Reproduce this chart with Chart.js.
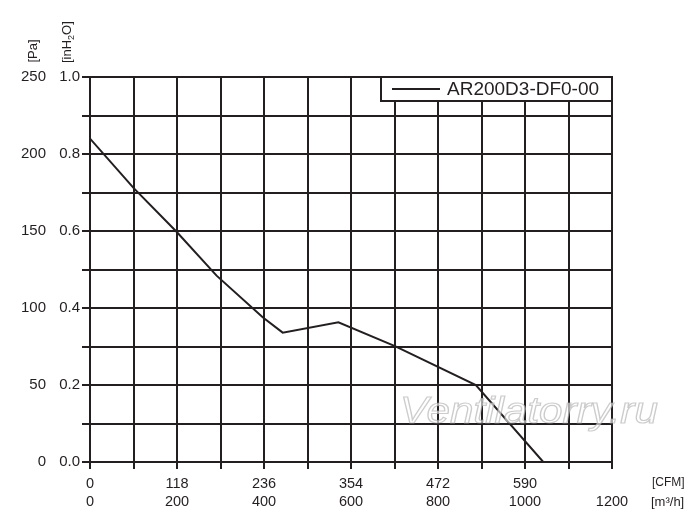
<!DOCTYPE html>
<html>
<head>
<meta charset="utf-8">
<script src="https://cdn.jsdelivr.net/npm/chart.js@4"></script>
<style>
    body { margin: 0; background: #fff; }
    #wrap { width: 700px; height: 530px; }
</style>
</head>
<body>
<div id="wrap"><canvas id="myChart"></canvas></div>
<script>
const modelName = 'AR200D3-DF0-00'

// airflow in m3/h and static pressure in Pa
const flowValues = [0, 100, 199, 291, 397, 443, 571, 701, 887, 1042]
const pressureValues = [210, 178, 149.5, 121, 94, 84, 90.7, 75.3, 50, 0]

// CFM labels sit under the 0, 200 ... 1000 m3/h gridlines
const cfmTickAt = [0, 200, 400, 600, 800, 1000]
const cfmTickLabels = ['0', '118', '236', '354', '472', '590']

const ink = '#231f20'
const fontFamily = '"Liberation Sans", Arial, sans-serif'

Chart.defaults.font.family = fontFamily
Chart.defaults.color = ink

const points = flowValues.map((f, i) => ({ x: f, y: pressureValues[i] }))

const extraText = {
    id: 'extraText',
    afterDatasetsDraw(chart) {
        const ctx = chart.ctx
        const area = chart.chartArea
        ctx.save()

        // legend box in the top right corner of the plot
        const boxW = 231, boxH = 24
        const bx = area.right - boxW, by = area.top
        ctx.fillStyle = '#fff'
        ctx.fillRect(bx, by, boxW, boxH)
        ctx.strokeStyle = ink
        ctx.lineWidth = 2
        ctx.strokeRect(bx, by, boxW, boxH)
        ctx.beginPath()
        ctx.moveTo(bx + 11, by + 12)
        ctx.lineTo(bx + 59, by + 12)
        ctx.stroke()
        ctx.fillStyle = ink
        ctx.font = '19px ' + fontFamily
        ctx.textBaseline = 'middle'
        ctx.textAlign = 'left'
        ctx.fillText(chart.data.datasets[0].label, bx + 66, by + 13)
        ctx.restore()
    },
    afterDraw(chart) {
        const ctx = chart.ctx
        ctx.save()
        ctx.fillStyle = ink
        ctx.textBaseline = 'middle'

        // rotated unit labels above the y axes
        ctx.save()
        ctx.translate(33, 51)
        ctx.rotate(-Math.PI / 2)
        ctx.font = '13px ' + fontFamily
        ctx.textAlign = 'center'
        ctx.fillText('[Pa]', 0, 0)
        ctx.restore()

        ctx.save()
        ctx.translate(67, 63)
        ctx.rotate(-Math.PI / 2)
        ctx.textAlign = 'left'
        ctx.font = '13px ' + fontFamily
        let w = 0
        ctx.fillText('[inH', w, 0)
        w += ctx.measureText('[inH').width
        ctx.font = '9px ' + fontFamily
        ctx.fillText('2', w, 5)
        w += ctx.measureText('2').width
        ctx.font = '13px ' + fontFamily
        ctx.fillText('O]', w, 0)
        ctx.restore()

        // unit labels at the right of the x axes
        ctx.textAlign = 'left'
        ctx.font = '12px ' + fontFamily
        ctx.fillText('[CFM]', 652, 483)
        ctx.font = '13px ' + fontFamily
        ctx.fillText('[m\u00B3/h]', 651, 502)

        // watermark
        ctx.save()
        ctx.translate(400, 423)
        ctx.scale(1.14, 1)
        ctx.font = 'italic 37px ' + fontFamily
        ctx.textBaseline = 'alphabetic'
        ctx.fillStyle = 'rgba(255,255,255,0.6)'
        ctx.strokeStyle = 'rgba(170,170,170,0.6)'
        ctx.lineWidth = 1.2
        ctx.fillText('Ventilatorry.ru', 0, 0)
        ctx.strokeText('Ventilatorry.ru', 0, 0)
        ctx.restore()

        ctx.restore()
    }
}

new Chart(document.getElementById('myChart'), {
    type: 'line',
    data: {
        datasets: [{
            label: modelName,
            data: points,
            xAxisID: 'x',
            yAxisID: 'y',
            borderColor: ink,
            borderWidth: 2,
            pointRadius: 0,
            tension: 0,
            fill: false
        }]
    },
    options: {
        responsive: true,
        maintainAspectRatio: false,
        animation: false,
        layout: {
            padding: { left: 0, top: 77, right: 88, bottom: 8 }
        },
        plugins: {
            legend: { display: false },
            tooltip: { enabled: false }
        },
        scales: {
            xc: {
                type: 'linear',
                position: 'bottom',
                weight: 0,
                min: 0,
                max: 1200,
                afterFit: s => { s.height = 30 },
                grid: { color: ink, lineWidth: 2, tickLength: 7, tickColor: ink },
                border: { display: true, color: ink, width: 2 },
                ticks: {
                    stepSize: 100,
                    autoSkip: false,
                    maxRotation: 0,
                    padding: 6,
                    font: { size: 14.5 },
                    callback: v => {
                        const k = cfmTickAt.indexOf(v)
                        return k >= 0 ? cfmTickLabels[k] : ''
                    }
                }
            },
            x: {
                type: 'linear',
                position: 'bottom',
                weight: 1,
                min: 0,
                max: 1200,
                afterFit: s => { s.height = 30 },
                grid: { display: false, drawTicks: false },
                border: { display: false },
                ticks: {
                    stepSize: 200,
                    autoSkip: false,
                    maxRotation: 0,
                    padding: 1,
                    font: { size: 14.5 },
                    callback: v => String(v)
                }
            },
            yin: {
                type: 'linear',
                position: 'left',
                weight: 0,
                min: 0,
                max: 1.0,
                afterFit: s => { s.width = 40 },
                grid: { color: ink, lineWidth: 2, tickLength: 8, tickColor: ink },
                border: { display: true, color: ink, width: 2 },
                ticks: {
                    stepSize: 0.1,
                    autoSkip: false,
                    padding: 2,
                    font: { size: 15 },
                    callback: v => Math.round(v * 10) % 2 === 0 ? v.toFixed(1) : ''
                }
            },
            y: {
                type: 'linear',
                position: 'left',
                weight: 1,
                min: 0,
                max: 250,
                afterFit: s => { s.width = 50 },
                grid: { display: false, drawTicks: false },
                border: { display: false },
                ticks: {
                    stepSize: 50,
                    padding: 4,
                    font: { size: 15 },
                    callback: v => String(v)
                }
            }
        }
    },
    plugins: [extraText]
})
</script>
</body>
</html>
